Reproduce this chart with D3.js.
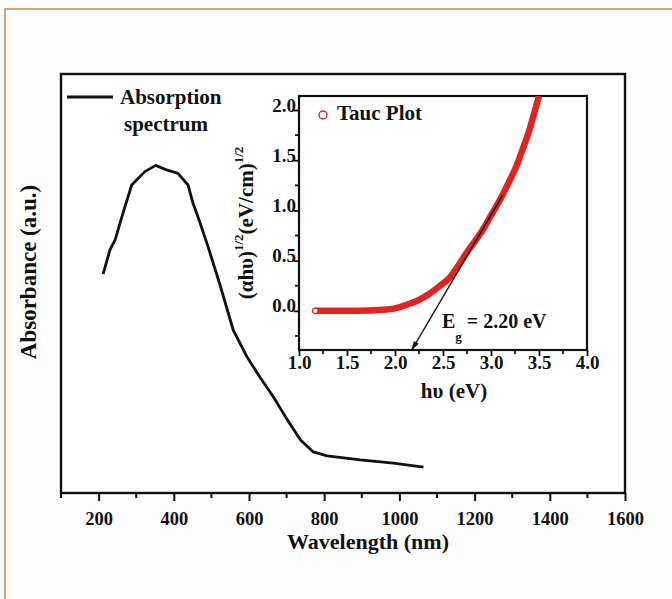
<!DOCTYPE html>
<html>
<head>
<meta charset="utf-8">
<script src="https://cdn.jsdelivr.net/npm/d3@7"></script>
<style>
  html, body { margin: 0; padding: 0; background: #fdfdfd; }
  svg { display: block; }
  text { font-family: "Liberation Serif", "Times New Roman", serif; font-weight: bold; fill: #111; }
</style>
</head>
<body>
<script>
// Absorption spectrum: wavelength (nm) and absorbance (a.u.)
const wavelength = [212, 230, 244, 265, 288, 301, 323, 352, 381, 411, 438, 451, 470, 491, 523, 558, 595, 630, 665, 700, 737, 771, 808, 896, 984, 1064];
const absorbance = [1.045, 1.160, 1.208, 1.337, 1.470, 1.494, 1.534, 1.564, 1.542, 1.526, 1.470, 1.384, 1.289, 1.176, 0.993, 0.778, 0.649, 0.550, 0.458, 0.355, 0.253, 0.196, 0.177, 0.158, 0.143, 0.124];

// Tauc plot: photon energy (eV) and (αhυ)^1/2
const photonEnergy = [1.17, 1.4, 1.6, 1.87, 2.0, 2.15, 2.25, 2.36, 2.47, 2.57, 2.66, 2.74, 2.83, 2.91, 3.0, 3.09, 3.18, 3.26, 3.33, 3.40, 3.45, 3.50];
const taucValue    = [0.0, 0.0, 0.0, 0.01, 0.025, 0.07, 0.11, 0.17, 0.25, 0.33, 0.45, 0.57, 0.69, 0.80, 0.95, 1.10, 1.27, 1.43, 1.61, 1.80, 1.97, 2.14];

// Linear fit to the absorption edge, extrapolated to the band gap
const fitEnergy = [2.175, 3.12];
const fitValue  = [-0.39, 1.15];

const mainTicks = [200, 400, 600, 800, 1000, 1200, 1400, 1600];
const insetXTicks = [1.0, 1.5, 2.0, 2.5, 3.0, 3.5, 4.0];
const insetYTicks = [0.0, 0.5, 1.0, 1.5, 2.0];

const W = 672, H = 599;
const svg = d3.select("body").append("svg").attr("width", W).attr("height", H);

// page frame
svg.append("rect").attr("x", 5).attr("y", 9).attr("width", W).attr("height", H)
  .attr("fill", "none").attr("stroke", "#c8773c").attr("stroke-width", 1.3);

// ---------- main panel ----------
const x = d3.scaleLinear().domain([100, 1600]).range([61, 625]);
const y = d3.scaleLinear().domain([0, 2]).range([493, 74]);

svg.append("rect").attr("x", 61).attr("y", 74).attr("width", 564).attr("height", 419)
  .attr("fill", "#fff").attr("stroke", "#111").attr("stroke-width", 2.4);

const xAxisMain = d3.axisBottom(x).tickValues(mainTicks).tickSize(8).tickPadding(5).tickFormat(d3.format("d"));
const gx = svg.append("g").attr("transform", "translate(0,493)").call(xAxisMain);
gx.select(".domain").remove();
gx.selectAll(".tick line").attr("stroke", "#111").attr("stroke-width", 2);
gx.selectAll(".tick text").style("font-size", "18.5px").attr("fill", "#111").attr("y", 31.5).attr("dy", null);
// minor ticks
svg.append("g").selectAll("line").data(d3.range(100, 1600, 200)).join("line")
  .attr("x1", d => x(d)).attr("x2", d => x(d)).attr("y1", 493).attr("y2", 498)
  .attr("stroke", "#111").attr("stroke-width", 2);

svg.append("text").attr("x", 368).attr("y", 548.5).attr("text-anchor", "middle")
  .style("font-size", "22px").text("Wavelength (nm)");
svg.append("text").attr("transform", "translate(36,272) rotate(-90)").attr("text-anchor", "middle")
  .style("font-size", "23px").text("Absorbance (a.u.)");

const mainLine = d3.line().x(d => x(d[0])).y(d => y(d[1])).curve(d3.curveLinear);
svg.append("path").datum(d3.zip(wavelength, absorbance))
  .attr("d", mainLine).attr("fill", "none").attr("stroke", "#111")
  .attr("stroke-width", 2.8).attr("stroke-linejoin", "round");

// legend
svg.append("line").attr("x1", 67).attr("x2", 113).attr("y1", 97).attr("y2", 97)
  .attr("stroke", "#111").attr("stroke-width", 2.8);
svg.append("text").attr("x", 120).attr("y", 104).style("font-size", "21px").text("Absorption");
svg.append("text").attr("x", 124).attr("y", 131).style("font-size", "21px").text("spectrum");

// ---------- inset: Tauc plot ----------
const ix = d3.scaleLinear().domain([1.0, 4.0]).range([299, 587]);
const iy = d3.scaleLinear().domain([-0.39, 2.14]).range([350, 96]);

svg.append("rect").attr("x", 299).attr("y", 96).attr("width", 288).attr("height", 254)
  .attr("fill", "#fff").attr("stroke", "#111").attr("stroke-width", 2.2);

const defs = svg.append("defs");
defs.append("clipPath").attr("id", "insetClip").append("rect")
  .attr("x", 299).attr("y", 96).attr("width", 288).attr("height", 254);

const gix = svg.append("g").attr("transform", "translate(0,350)")
  .call(d3.axisBottom(ix).tickValues(insetXTicks).tickSize(6).tickPadding(5).tickFormat(d3.format(".1f")));
gix.select(".domain").remove();
gix.selectAll(".tick line").attr("stroke", "#111").attr("stroke-width", 1.8);
gix.selectAll(".tick text").style("font-size", "19px").attr("fill", "#111").attr("y", 19).attr("dy", null);
svg.append("g").selectAll("line").data(d3.range(1.25, 4.0, 0.5)).join("line")
  .attr("x1", d => ix(d)).attr("x2", d => ix(d)).attr("y1", 350).attr("y2", 354)
  .attr("stroke", "#111").attr("stroke-width", 1.8);

const giy = svg.append("g").attr("transform", "translate(299,0)")
  .call(d3.axisLeft(iy).tickValues(insetYTicks).tickSize(5).tickPadding(-2).tickFormat(d3.format(".1f")));
giy.select(".domain").remove();
giy.selectAll(".tick line").attr("stroke", "#111").attr("stroke-width", 1.8);
giy.selectAll(".tick text").style("font-size", "19px").attr("fill", "#111").attr("dy", "0.05em");
svg.append("g").selectAll("line").data([-0.25, 0.25, 0.75, 1.25, 1.75]).join("line")
  .attr("x1", 295).attr("x2", 299).attr("y1", d => iy(d)).attr("y2", d => iy(d))
  .attr("stroke", "#111").attr("stroke-width", 1.8);

// Tauc curve
const taucLine = d3.line().x(d => ix(d[0])).y(d => iy(d[1])).curve(d3.curveMonotoneX);
const tauc = d3.zip(photonEnergy, taucValue);
const gPlot = svg.append("g").attr("clip-path", "url(#insetClip)");
gPlot.append("path").datum(tauc).attr("d", taucLine)
  .attr("fill", "none").attr("stroke", "#e3231f").attr("stroke-width", 6.5);
gPlot.append("circle").attr("cx", ix(photonEnergy[0])).attr("cy", iy(taucValue[0])).attr("r", 2.8)
  .attr("fill", "#fff").attr("stroke", "#e3231f").attr("stroke-width", 1.2);

// tangent with arrow toward the energy axis
defs.append("marker").attr("id", "arrow").attr("viewBox", "0 0 12 10").attr("refX", 11).attr("refY", 5)
  .attr("markerWidth", 11).attr("markerHeight", 8).attr("orient", "auto-start-reverse")
  .attr("markerUnits", "userSpaceOnUse")
  .append("path").attr("d", "M0,1.5 L12,5 L0,8.5 z").attr("fill", "#111");
gPlot.append("line")
  .attr("x1", ix(fitEnergy[1])).attr("y1", iy(fitValue[1]))
  .attr("x2", ix(fitEnergy[0])).attr("y2", iy(fitValue[0]))
  .attr("stroke", "#111").attr("stroke-width", 1.4).attr("marker-end", "url(#arrow)");

// inset legend
svg.append("circle").attr("cx", 323).attr("cy", 115).attr("r", 4)
  .attr("fill", "none").attr("stroke", "#e3231f").attr("stroke-width", 1.4);
svg.append("text").attr("x", 337).attr("y", 120).style("font-size", "21px").text("Tauc Plot");

// band gap label
const eg = svg.append("text").attr("x", 442).attr("y", 328).style("font-size", "20px");
eg.append("tspan").text("E");
eg.append("tspan").attr("dy", 13).style("font-size", "13px").text("g");
eg.append("tspan").attr("dy", -13).text(" = 2.20 eV");

// inset axis titles
svg.append("text").attr("x", 454).attr("y", 398).attr("text-anchor", "middle")
  .style("font-size", "21px").text("hυ (eV)");
const yl = svg.append("text").attr("transform", "translate(253,223) rotate(-90)")
  .attr("text-anchor", "middle").style("font-size", "21px");
yl.append("tspan").text("(αhυ)");
yl.append("tspan").attr("dy", -10).style("font-size", "13px").text("1/2");
yl.append("tspan").attr("dy", 10).text("(eV/cm)");
yl.append("tspan").attr("dy", -10).style("font-size", "13px").text("1/2");
</script>
</body>
</html>
